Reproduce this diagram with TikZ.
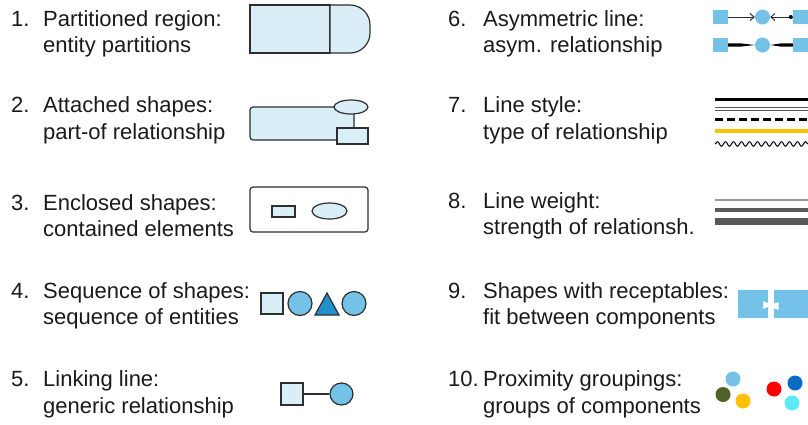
\documentclass[tikz,border=0pt]{standalone}
\usepackage{fontspec}
\setmainfont{Liberation Sans}
\usetikzlibrary{arrows.meta,decorations.pathmorphing,shapes.geometric}
\definecolor{paleblue}{HTML}{DAEEF8}
\definecolor{midblue}{HTML}{74C2E8}
\definecolor{deepblue}{HTML}{2390C9}
\definecolor{edgegray}{HTML}{2E2E2E}
\definecolor{inkblack}{HTML}{1A1A1A}
\definecolor{amber}{HTML}{FFC000}
\definecolor{olive}{HTML}{4F6228}
\definecolor{royal}{HTML}{0B6CC8}
\definecolor{aqua}{HTML}{5CEBF5}
\definecolor{weightgray}{HTML}{5A5A5A}
\tikzset{
  label text/.style={anchor=base west, inner sep=0pt, text=inkblack,
    font=\fontsize{22}{26}\selectfont},
  outline/.style={draw=edgegray, line width=1.2pt},
  palebox/.style={outline, fill=paleblue, inner sep=0pt},
  midshape/.style={outline, fill=midblue, inner sep=0pt},
  tapered/.style={fill=black},
  thinarrow/.style={draw=edgegray, line width=1pt, -{Straight Barb[length=4pt,width=7pt]}},
}
\begin{document}
\begin{tikzpicture}[x=1pt,y=-1pt]
\useasboundingbox (0,0) rectangle (808,424);

% ---------- left column captions ----------
\node[label text] (n1) at (11,26) {1.};
\node[label text] (t1a) at (43,26) {Partitioned region:};
\node[label text] (t1b) at (43,52.5) {entity partitions};
\node[label text] (n2) at (11,112.5) {2.};
\node[label text] (t2a) at (43,112.5) {Attached shapes:};
\node[label text] (t2b) at (43,139.5) {part-of relationship};
\node[label text] (n3) at (11,210) {3.};
\node[label text] (t3a) at (43,210) {Enclosed shapes:};
\node[label text] (t3b) at (43,236) {contained elements};
\node[label text] (n4) at (11,298) {4.};
\node[label text] (t4a) at (43,298) {Sequence of shapes:};
\node[label text] (t4b) at (43,324.5) {sequence of entities};
\node[label text] (n5) at (11,386.5) {5.};
\node[label text] (t5a) at (43,386.5) {Linking line:};
\node[label text] (t5b) at (43,413.5) {generic relationship};

% ---------- right column captions ----------
\node[label text] (n6) at (448,26) {6.};
\node[label text] (t6a) at (483,26) {Asymmetric line:};
\node[label text] (t6b) at (483,52.5) {asym. relationship};
\node[label text] (n7) at (448,112.5) {7.};
\node[label text] (t7a) at (483,112.5) {Line style:};
\node[label text] (t7b) at (483,139.5) {type of relationship};
\node[label text] (n8) at (448,208) {8.};
\node[label text] (t8a) at (483,208) {Line weight:};
\node[label text] (t8b) at (483,234.5) {strength of relationsh.};
\node[label text] (n9) at (448,298) {9.};
\node[label text] (t9a) at (483,298) {Shapes with receptables:};
\node[label text] (t9b) at (483,324.5) {fit between components};
\node[label text] (n10) at (448,386.5) {10.};
\node[label text] (t10a) at (483,386.5) {Proximity groupings:};
\node[label text] (t10b) at (483,413.5) {groups of components};

% ---------- 1: partitioned region ----------
\draw[palebox] (250,5) rectangle (330,53);
\draw[palebox] (330,5) -- (350,5) arc[start angle=-90, end angle=0, radius=20]
  -- (370,33) arc[start angle=0, end angle=90, radius=20] -- (330,53) -- cycle;

% ---------- 2: attached shapes ----------
\draw[palebox, rounded corners=3pt] (250,107) rectangle (354,140);
\node[palebox, ellipse, minimum width=34pt, minimum height=14pt] (ell2) at (351,107) {};
\node[palebox, minimum width=31pt, minimum height=16pt] (part2) at (352.5,136) {};

% ---------- 3: enclosed shapes ----------
\node[outline, fill=white, rounded corners=3pt, minimum width=118pt, minimum height=45pt] (encl) at (309,209.5) {};
\node[palebox, minimum width=23pt, minimum height=11pt] (inrect) at (283.5,211.5) {};
\node[palebox, ellipse, minimum width=35pt, minimum height=16pt] (inell) at (329.5,211) {};

% ---------- 4: sequence of shapes ----------
\node[palebox, minimum width=22pt, minimum height=21pt] (s4a) at (272,303.5) {};
\node[midshape, circle, minimum size=24pt] (s4b) at (300,303.5) {};
\draw[outline, fill=deepblue] (315,315) -- (327,293) -- (339,315) -- cycle;
\node[midshape, circle, minimum size=24pt] (s4d) at (354,303.5) {};

% ---------- 5: linking line ----------
\node[palebox, minimum width=22pt, minimum height=22pt] (s5a) at (292,394) {};
\node[midshape, ellipse, minimum width=23pt, minimum height=22pt] (s5b) at (341.5,394) {};
\draw[edgegray, line width=1.2pt] (s5a.east) -- (s5b.west);

% ---------- 6: asymmetric lines ----------
\node[fill=midblue, minimum width=15pt, minimum height=14pt, inner sep=0pt] (a6l) at (720.5,17) {};
\node[fill=midblue, circle, minimum size=15pt, inner sep=0pt] (a6c) at (762.5,17) {};
\node[fill=midblue, minimum width=15pt, minimum height=14pt, inner sep=0pt] (a6r) at (800.5,17) {};
\draw[thinarrow] (a6l.east) -- (a6c.west);
\draw[thinarrow] (a6r.west) -- (a6c.east);
\fill[black] (a6r.west) ++(-2,0) circle[radius=2];

\node[fill=midblue, minimum width=15pt, minimum height=14pt, inner sep=0pt] (b6l) at (720.5,45) {};
\node[fill=midblue, circle, minimum size=15pt, inner sep=0pt] (b6c) at (762.5,45) {};
\node[fill=midblue, minimum width=15pt, minimum height=14pt, inner sep=0pt] (b6r) at (800.5,45) {};
\fill[tapered] (b6l.east) ++(0,-1.6) -- ++(13,0) -- (b6c.west) -- (741,46.6) -- (728,46.6) -- cycle;
\fill[tapered] (b6r.west) ++(0,-1.6) -- ++(-12,0) -- (b6c.east) -- (781,46.6) -- (793,46.6) -- cycle;

% ---------- 7: line styles ----------
\draw[black, line width=3pt] (715,99.5) -- (808,99.5);
\draw[edgegray!80, line width=1pt] (715,107.8) -- (808,107.8);
\draw[edgegray!80, line width=1pt] (715,110.8) -- (808,110.8);
\draw[black, line width=3pt, dash pattern=on 8pt off 4pt] (715,119.5) -- (808,119.5);
\draw[amber, line width=4pt] (715,131) -- (808,131);
\draw[black, line width=1pt, decorate, decoration={snake, amplitude=2.3pt, segment length=8pt}] (715,144) -- (808,144);

% ---------- 8: line weights ----------
\draw[gray!80, line width=2pt] (715,200) -- (808,200);
\draw[weightgray, line width=4pt] (715,210) -- (808,210);
\draw[weightgray, line width=6.5pt] (715,221.7) -- (808,221.7);

% ---------- 9: shapes with receptacles ----------
\fill[midblue] (738,290) -- (768,290) -- (768,303) -- (763,301) -- (763,309) -- (768,307)
  -- (768,318) -- (738,318) -- cycle;
\fill[midblue] (774,290) -- (808,290) -- (808,318) -- (774,318) -- (774,308.5)
  -- (778.5,310) -- (778.5,302) -- (774,303.5) -- cycle;

% ---------- 10: proximity groupings ----------
\fill[midblue] (733,379) circle[radius=7.5];
\fill[olive] (723,394.5) circle[radius=7.5];
\fill[amber] (743,401) circle[radius=7.5];
\fill[red] (774,389) circle[radius=7.5];
\fill[royal] (795,383) circle[radius=7.5];
\fill[aqua] (792,403) circle[radius=7.5];
\end{tikzpicture}
\end{document}
